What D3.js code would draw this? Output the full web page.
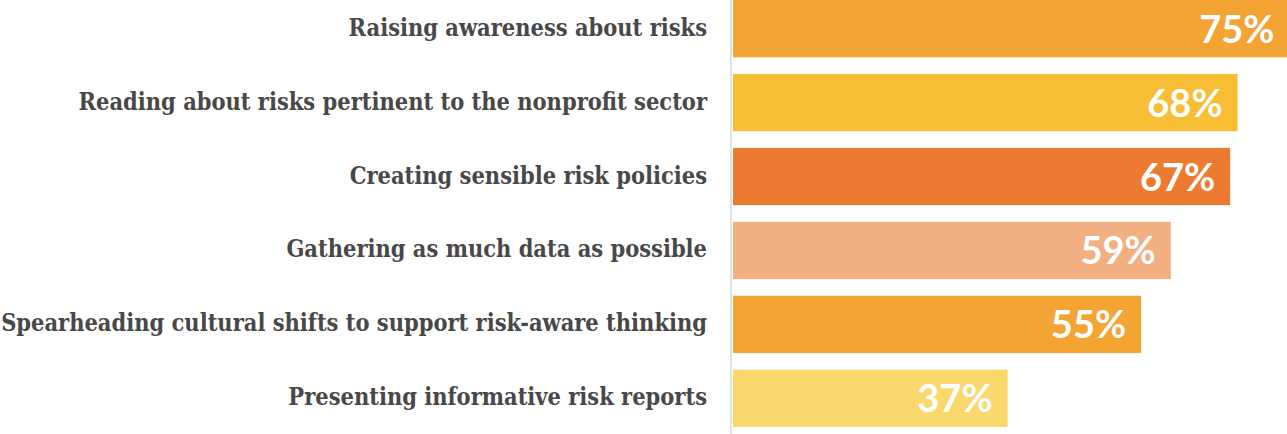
<!DOCTYPE html>
<html>
<head>
<meta charset="utf-8">
<script src="https://cdn.jsdelivr.net/npm/d3@7"></script>
<style>
  html, body { margin: 0; padding: 0; background: #ffffff; }
  svg { display: block; }
</style>
</head>
<body>
<svg id="chart" width="1287" height="434"></svg>
<script>
const categories = [
  "Raising awareness about risks",
  "Reading about risks pertinent to the nonprofit sector",
  "Creating sensible risk policies",
  "Gathering as much data as possible",
  "Spearheading cultural shifts to support risk-aware thinking",
  "Presenting informative risk reports"
];
const values = [75, 68, 67, 59, 55, 37];
const colors = ["#F4A433", "#F7BE35", "#EC7B31", "#F1AF82", "#F4A433", "#FBD86B"];

const svg = d3.select("#chart");
const W = 1287, H = 434;

const x = d3.scaleLinear().domain([0, 100]).range([733, 1475]);
const y = d3.scaleBand().domain(categories).range([0, 427]).paddingInner(0.225).paddingOuter(0);

// vertical axis line
svg.append("line")
  .attr("x1", 731).attr("x2", 731)
  .attr("y1", 0).attr("y2", H)
  .attr("stroke", "#d9d9d9").attr("stroke-width", 1.5);

// bars
svg.selectAll("rect.bar").data(categories).enter().append("rect")
  .attr("class", "bar")
  .attr("x", x(0))
  .attr("y", d => y(d))
  .attr("width", (d, i) => x(values[i]) - x(0))
  .attr("height", y.bandwidth())
  .attr("fill", (d, i) => colors[i]);

// value labels
svg.selectAll("text.val").data(categories).enter().append("text")
  .attr("class", "val")
  .attr("x", (d, i) => x(values[i]) - 15)
  .attr("y", d => y(d) + y.bandwidth() / 2 + 14)
  .attr("text-anchor", "end")
  .attr("fill", "#ffffff")
  .style("font-family", "Lato, 'Open Sans', sans-serif")
  .style("font-weight", "700")
  .style("font-size", "38px")
  .text((d, i) => values[i] + "%");

// category labels
svg.selectAll("text.cat").data(categories).enter().append("text")
  .attr("class", "cat")
  .attr("x", 707)
  .attr("y", d => y(d) + y.bandwidth() / 2 + 7)
  .attr("text-anchor", "end")
  .attr("fill", "#484848")
  .style("font-family", "'DejaVu Serif Condensed', 'DejaVu Serif', serif")
  .style("font-stretch", "condensed")
  .style("font-weight", "700")
  .style("font-size", "23.4px")
  .text(d => d);
</script>
</body>
</html>
